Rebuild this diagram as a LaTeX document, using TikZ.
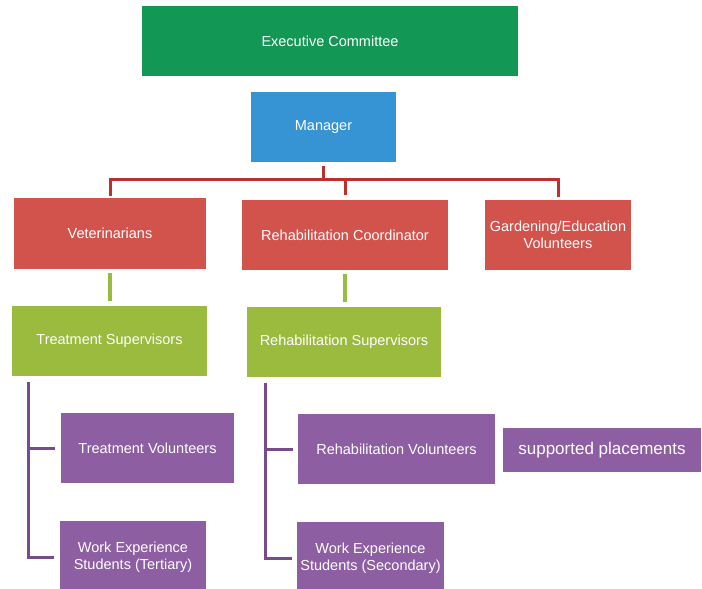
\documentclass[tikz,border=0pt]{standalone}
\usepackage{fontspec}
\setmainfont{Liberation Sans}
\usetikzlibrary{calc}
\definecolor{execgreen}{RGB}{18,152,84}
\definecolor{mgrblue}{RGB}{54,148,212}
\definecolor{boxred}{RGB}{210,82,76}
\definecolor{linered}{RGB}{190,48,44}
\definecolor{boxlime}{RGB}{155,187,62}
\definecolor{boxpurple}{RGB}{142,94,162}
\definecolor{linepurple}{RGB}{118,76,140}

\begin{document}
\begin{tikzpicture}[x=1pt,y=-1pt,
  box/.style={rectangle,text=white,align=center,inner sep=2pt,font=\fontsize{14.5}{17}\selectfont},
  redline/.style={draw=linered,line width=3pt},
  limeline/.style={draw=boxlime,line width=4pt,shorten <=4pt,shorten >=5pt},
  purpline/.style={draw=linepurple,line width=3pt}]
\useasboundingbox[fill=white] (0,0) rectangle (702,589);
\node[box,fill=execgreen,minimum width=376pt,minimum height=70pt] (exec) at (330,41) {Executive Committee};
\node[box,fill=mgrblue,minimum width=145pt,minimum height=70pt] (mgr) at (323.5,127) {Manager};
\node[box,fill=boxred,minimum width=192pt,minimum height=71pt] (vet) at (110,233.5) {Veterinarians};
\node[box,fill=boxred,minimum width=206pt,minimum height=70pt] (rcoord) at (345,235) {Rehabilitation Coordinator};
\node[box,fill=boxred,minimum width=146pt,minimum height=70pt] (garden) at (558,235) {Gardening/Education\\Volunteers};
\node[box,fill=boxlime,minimum width=195pt,minimum height=70pt] (tsup) at (109.5,341) {Treatment Supervisors};
\node[box,fill=boxlime,minimum width=194pt,minimum height=70pt] (rsup) at (344,342) {Rehabilitation Supervisors};
\node[box,fill=boxpurple,minimum width=173pt,minimum height=70pt] (tvol) at (147.5,448) {Treatment Volunteers};
\node[box,fill=boxpurple,minimum width=146pt,minimum height=72pt] (wtert) at (133,557) {Work Experience\\Students (Tertiary)};
\node[box,fill=boxpurple,minimum width=197pt,minimum height=70pt] (rvol) at (396.5,449) {Rehabilitation Volunteers};
\node[box,fill=boxpurple,minimum width=198pt,minimum height=44pt,font=\fontsize{17}{20}\selectfont] (place) at (602,450) {supported placements};
\node[box,fill=boxpurple,minimum width=147pt,minimum height=72pt] (wsec) at (370.5,558) {Work Experience\\Students (Secondary)};
% manager to the red row
\coordinate (bar) at ($(mgr.south)+(0,17)$);
\draw[redline] ([yshift=-4pt]mgr.south) -- (bar);
\draw[redline] (bar) -| ([yshift=2pt]vet.north);
\draw[redline] (bar) -| ([yshift=3pt]garden.north);
\draw[redline] (bar -| rcoord.north) -- ([yshift=5pt]rcoord.north);
% red row to supervisors
\draw[limeline] (vet.south) -- (vet.south |- tsup.north);
\draw[limeline] (rcoord.south) -- (rcoord.south |- rsup.north);
% supervisors to volunteers
\coordinate (tleft) at ([xshift=17pt,yshift=-6pt]tsup.south west);
\coordinate (rleft) at ([xshift=19pt,yshift=-6pt]rsup.south west);
\draw[purpline] (tleft) |- ([xshift=-6pt]wtert.west);
\draw[purpline] (tleft |- tvol.west) -- ([xshift=-6pt]tvol.west);
\draw[purpline] (rleft) |- ([xshift=-5pt]wsec.west);
\draw[purpline] (rleft |- rvol.west) -- ([xshift=-5pt]rvol.west);
\end{tikzpicture}
\end{document}
